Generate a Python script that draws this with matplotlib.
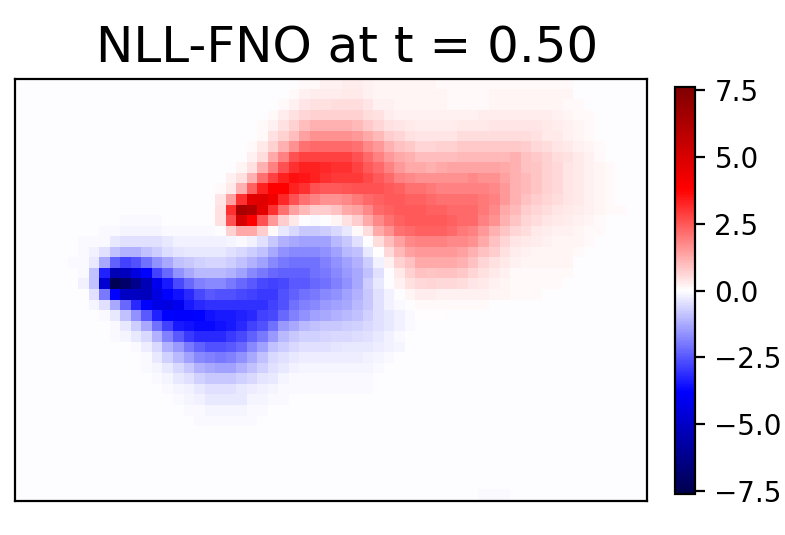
import numpy as np
import matplotlib
matplotlib.use('Agg')
import matplotlib.pyplot as plt

title = 'NLL-FNO at t = 0.50'
cbar_ticks = [-7.5, -5.0, -2.5, 0.0, 2.5, 5.0, 7.5]
vlim = 7.6
background = -.03

# vorticity, 40 rows of 60 cells (rows get padded with 0)
rows = [
    [-.05, -.05, -.05, -.05] + [0]*16 + [-.03]*2 + [0]*5 + [.10, .10, .22, .22, .25, .25, .22] + [.15]*6 + [.10]*13,
    [0]*26 + [.10, .22, .25, .25, .28, .34, .34, .22] + [.15]*7 + [.10]*4 + [.12]*8,
    [0]*25 + [.10, .22, .37, .46, .46, .50, .51, .51, .40, .22, .22] + [.15]*5 + [.10]*4 + [.15]*7 + [.10, .10],
    [0]*24 + [.10, .25, .46, .60, .69, .69, .69, .69, .69, .51, .46, .25] + [.22]*8 + [.25]*7 + [.22, .15, .10, .10],
    [0]*23 + [.10, .22, .46, .69, 1.0, 1.16, 1.16, 1.16, 1.16, 1.04, .81, .63, .46, .40, .34] + [.25]*4 + [.34]*3 + [.40]*5 + [.34, .25, .22, .15, .10],
    [0]*23 + [.10, .46, .69, .98, 1.40, 1.63, 1.63, 1.63, 1.63, 1.51, 1.28, 1.04, .75, .63, .46] + [.40]*4 + [.51]*7 + [.46, .34, .34, .22, .15, .10],
    [0]*22 + [.10, .34, .69, 1.16, 1.63, 2.10, 2.22, 2.22, 2.22, 2.22, 2.10, 1.75, 1.51, 1.16, .93, .81, .63, .63, .69, .69] + [.81]*6 + [.75, .57, .51, .40, .34, .22, .15, .10],
    [0]*22 + [.22, .51, 1.28, 1.87, 2.57, 2.81, 2.81, 2.81, 2.81, 2.81, 2.57, 2.22, 1.87, 1.51, 1.28, 1.16] + [1.0]*4 + [1.04]*5 + [1.16, .93, .81, .69, .51, .46, .34, .22, .10],
    [0]*21 + [.15, .46, 1.16, 1.87, 2.57, 3.04, 3.28, 3.28, 3.16, 3.04, 3.04, 2.81, 2.46, 2.22, 1.87, 1.51, 1.28, 1.28, 1.16, 1.28] + [1.34]*5 + [1.28, 1.16, .93, .87, .69, .57, .40, .34, .22, .15, .10],
    [0]*20 + [.22, .46, 1.16, 2.10, 2.81, 3.28, 3.51, 3.45, 3.28, 3.04, 2.93, 2.93, 2.93, 2.69, 2.46, 2.22, 1.87, 1.75, 1.63, 1.63, 1.63, 1.63, 1.63, 1.75, 1.63, 1.63, 1.40, 1.16, 1.04, .87, .69, .57, .40, .34, .22, .15, .10],
    [0]*19 + [.10, .34, 1.16, 2.34, 3.28, 3.75, 3.75, 3.28, 3.04, 2.57, 2.46, 2.46, 2.52, 2.57, 2.57, 2.57, 2.46, 2.34, 2.10, 2.10, 1.99] + [1.87]*5 + [1.75, 1.51, 1.16, 1.04, .87, .69, .57, .40, .34, .22, .15, .10],
    [0]*19 + [.40, 1.40, 3.04, 4.60, 4.67, 4.20, 3.16, 2.57, 2.10, 1.87, 1.63, 1.63, 1.75, 1.99, 2.22, 2.34, 2.46, 2.46, 2.34, 2.34, 2.22] + [2.10]*4 + [1.99, 1.87, 1.51, 1.16, .93, .75, .63, .51, .40, .34, .22, .15, .10],
    [0]*19 + [.46, 3.04, 6.30, 6.00, 4.60, 3.04, 2.10, 1.40, 1.04, .75, .75, .93, 1.25, 1.40, 1.75, 2.22, 2.34, 2.46, 2.46, 2.46, 2.34, 2.34, 2.22, 2.22, 2.22, 1.99, 1.75, 1.28, 1.04, .75, .63, .51, .40, .34, .25, .22, .15, .10, .07],
    [0]*10 + [-.06]*4 + [0]*5 + [.46, 2.57, 5.00, 3.75, 2.57, 1.51, .75, .34, 0, -.10, 0, .15, .46, .75, 1.28, 1.75, 2.10, 2.34, 2.46, 2.46, 2.46, 2.46, 2.34, 2.22, 2.22, 1.87, 1.63, 1.16, .87, .63, .51, .40, .34, .25, .22, .15, .10],
    [0]*8 + [-.06, -.06, -.12, -.12, -.12, -.12, -.07, -.07, -.07, -.07, -.07, 0, .69, 1.28, 1.28, .75, .10, -.34, -.57, -.81, -.81, -.75, -.57, -.34, .10, .51, 1.28, 1.63, 2.10, 2.22, 2.34, 2.34, 2.34, 2.22, 1.99, 1.87, 1.51, 1.16, .87, .63, .51, .34, .25, .22, .22, .15, .10, .07],
    [0]*6 + [-.06, -.06, -.10, -.34, -.46, -.46, -.46, -.46, -.34, -.22, -.22, -.22, -.22, -.22, -.15, -.07, -.22, -.46, -.81, -1.16, -1.28, -1.40, -1.40, -1.40, -1.04, -.81, -.46, 0, .51, 1.0, 1.40, 1.75, 1.87, 1.87, 1.87, 1.75, 1.75, 1.63, 1.28, .93, .63, .40, .34, .25, .22, .15, .15, .15, .10],
    [0]*6 + [-.06, -.22, -.46, -.93, -1.16, -1.16, -.95, -.75, -.51, -.40, -.34, -.34, -.34, -.34, -.46, -.57, -.75, -.93, -1.28, -1.63, -1.75, -1.75, -1.75, -1.63, -1.40, -1.04, -.93, -.34, .05, .57, 1.04, 1.40, 1.51, 1.51, 1.51, 1.51, 1.40, 1.16, .93, .75, .46, .25, .22, .15, .15, .15, .15, .10],
    [0]*5 + [-.06, -.10, -.34, -1.28, -2.34, -2.81, -2.57, -2.10, -1.63, -1.28, -.93, -.81, -.69, -.63, -.63, -.75, -.93, -1.16, -1.40, -1.75, -1.99, -2.10, -2.10, -2.10, -1.87, -1.63, -1.40, -1.16, -.75, -.22, .22, .69, .93, 1.28, 1.28, 1.28, 1.28, 1.16, .93, .63, .46, .34, .22, .12, .12, .12, .12, .12],
    [0]*5 + [-.03, -.10, -.93, -3.28, -5.40, -5.20, -4.40, -3.75, -2.81, -2.22, -1.63, -1.28, -1.04, -1.04, -1.04, -1.16, -1.40, -1.75, -1.99, -2.22, -2.34, -2.34, -2.34, -2.10, -1.99, -1.75, -1.51, -1.28, -.93, -.46, 0, .34, .69, .93, .87, .93, .93, .81, .63, .46, .34, .22, .10, .10, .10, .10, .10, .10],
    [0]*5 + [-.03, -.22, -.93, -4.70, -7.40, -7.00, -6.20, -5.30, -4.10, -3.40, -2.69, -2.22, -1.87, -1.75, -1.75, -1.99, -2.22, -2.46, -2.69, -2.81, -2.69, -2.46, -2.46, -2.22, -2.10, -1.87, -1.63, -1.28, -.75, -.34, 0, .22, .46, .57, .60, .57, .57, .51, .40, .34, .22, .15, .10, .10, .10, .07, .07],
    [0]*6 + [-.05, -.46, -1.99, -3.75, -5.00, -5.10, -5.20, -4.40, -3.75, -3.51, -3.16, -2.69, -2.46, -2.57, -2.57, -2.69, -2.81, -2.93, -2.93, -2.57, -2.34, -2.10, -1.99, -1.75, -1.63, -1.40, -1.16, -.81, -.46, -.22, 0, .15, .25, .25, .22, .22, .22, .22, .22, .15, .15, .07, .07, .07],
    [0]*7 + [-.15, -.46, -1.28, -2.22, -3.16, -3.75, -4.30, -4.40, -4.10, -3.40, -3.16, -3.04, -3.04, -3.04, -3.04, -3.04, -3.04, -2.81, -2.57, -2.10, -1.87, -1.75, -1.51, -1.40, -1.28, -1.04, -.81, -.46, -.22, -.10, 0, .10, .10, .10, .10, .10, .10, .10],
    [0]*8 + [-.10, -.34, -.93, -1.63, -2.46, -3.28, -3.75, -3.85, -3.85, -3.75, -3.51, -3.40, -3.40, -3.28, -3.16, -2.81, -2.69, -2.22, -1.87, -1.63, -1.40, -1.28, -1.16, -1.04, -.93, -.69, -.46, -.34, -.22, -.10, .05, .05, .05],
    [0]*8 + [-.05, -.10, -.34, -.75, -1.28, -2.10, -2.81, -3.40, -3.51, -3.63, -3.63, -3.51, -3.40, -3.16, -2.81, -2.57, -2.10, -1.51, -1.28, -1.04, -.93, -.81, -.81, -.75, -.69, -.57, -.46, -.34, -.22, -.10],
    [0]*9 + [-.10, -.15, -.34, -.57, -1.16, -1.87, -2.46, -2.93, -3.16, -3.16, -3.16, -2.93, -2.69, -2.34, -1.99, -1.51, -1.04, -.81, -.69, -.69, -.63, -.57, -.57, -.51, -.46, -.34, -.22, -.10],
    [0]*11 + [-.10, -.25, -.57, -1.16, -1.51, -1.99, -2.34, -2.57, -2.57, -2.46, -2.22, -1.75, -1.40, -.93, -.75, -.57, -.46, -.46, -.46, -.40, -.34, -.34, -.34, -.25, -.22, -.15],
    [0]*12 + [-.10, -.34, -.69, -1.04, -1.40, -1.75, -1.87, -1.99, -1.87, -1.63, -1.28, -.93, -.57, -.46, -.34] + [-.25]*6 + [-.22, -.15, -.10],
    [0]*12 + [-.06, -.15, -.34, -.57, -.81, -1.16, -1.28, -1.40, -1.40, -1.16, -.93, -.69, -.46, -.34, -.22] + [-.15]*7 + [-.10],
    [0]*13 + [-.10, -.15, -.34, -.46, -.69, -.81, -.81, -.81, -.69, -.57, -.40, -.34, -.15] + [-.10]*8,
    [0]*14 + [-.06, -.15, -.22, -.34, -.46, -.46, -.46, -.34, -.25, -.22, -.15] + [-.06]*9,
    [0]*15 + [-.06, -.15, -.22, -.30, -.30, -.30, -.30, -.15, -.15, -.10, -.06],
    [0]*16 + [-.06, -.10, -.15, -.15, -.15, -.15, -.10, -.06],
    [0]*17 + [-.06, -.06, -.10, -.10, -.10, -.06],
    [0]*18 + [-.03]*6,
    [],
    [],
    [],
    [],
    [],
    [0]*44 + [-.10, -.10, -.10],
]

field = np.array([r + [0]*(60 - len(r)) for r in rows])
# the empty part of the field is a faint blue rather than pure white
field[field == 0] = background

if __name__ == '__main__':
    fig = plt.figure(figsize=(3.925, 2.675), dpi=200)
    ax = fig.add_axes([15/785, 1 - 500.5/535, 632/785, 421.5/535])
    im = ax.imshow(field, cmap='seismic', vmin=-vlim, vmax=vlim, aspect='auto', interpolation='nearest')
    ax.set_xticks([])
    ax.set_yticks([])
    ax.set_title(title, fontsize=18, x=0.525)

    cax = fig.add_axes([675/785, 1 - 494/535, 20/785, 407/535])
    cb = fig.colorbar(im, cax=cax, ticks=cbar_ticks)
    cb.ax.tick_params(labelsize=10)

    fig.savefig('out.png', dpi=200)
